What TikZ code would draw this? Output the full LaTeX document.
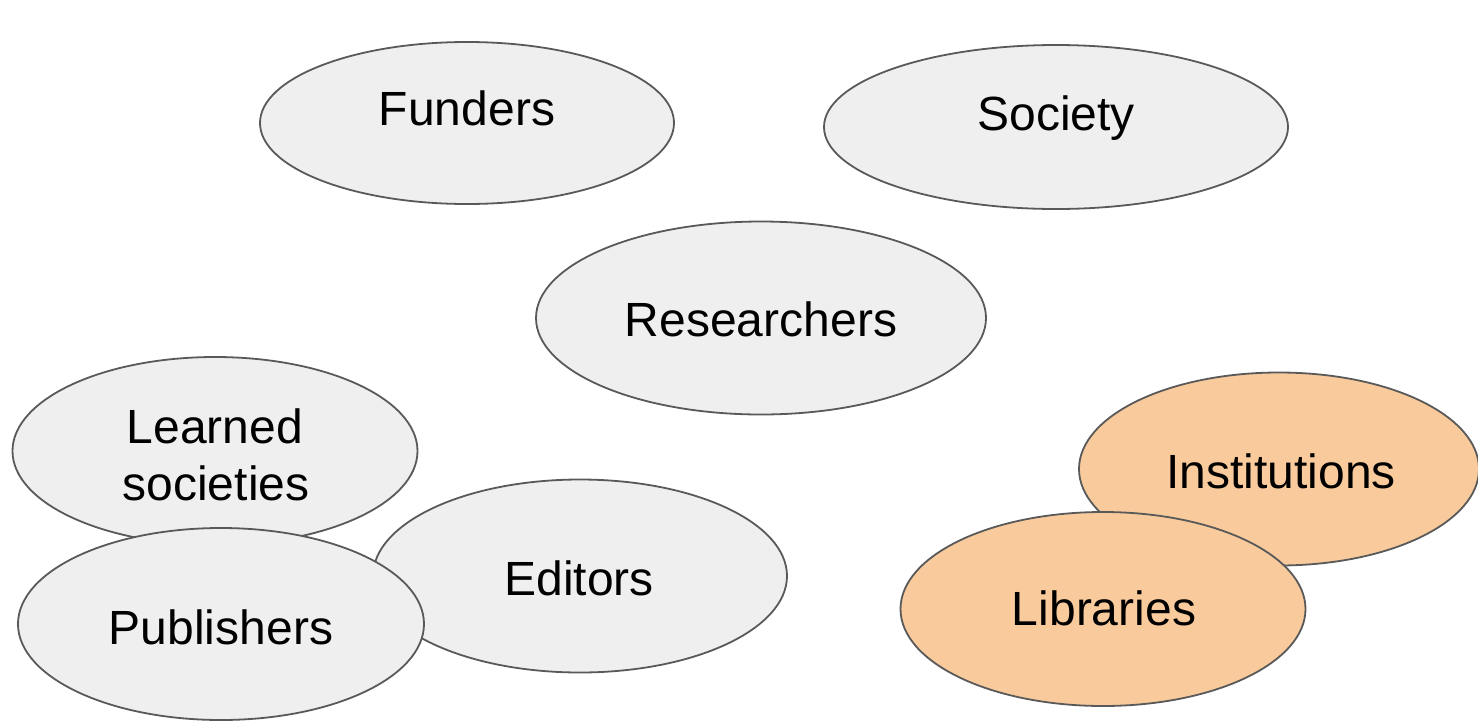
\documentclass[tikz,border=0pt]{standalone}
\usepackage{fontspec}
\setmainfont{Liberation Sans}
\usetikzlibrary{shapes.geometric}
\definecolor{grayfill}{HTML}{EFEFEF}
\definecolor{orangefill}{HTML}{F9CB9C}
\definecolor{edge}{HTML}{595959}
\tikzset{
  blob/.style={ellipse, draw=edge, line width=1.8pt, fill=grayfill, inner sep=0pt},
  oblob/.style={blob, fill=orangefill},
  lbl/.style={anchor=base, inner sep=0pt, font=\fontsize{48}{57}\selectfont}
}
\begin{document}
\begin{tikzpicture}[x=1pt,y=-1pt]
\useasboundingbox (0,0) rectangle (1478,721);
\node[blob, minimum width=414pt, minimum height=162pt] (funders) at (467,123) {};
\node[lbl] (funderst) at (467,125) {Funders};
\node[blob, minimum width=464pt, minimum height=164pt] (society) at (1056,127) {};
\node[lbl] (societyt) at (1056,130) {Society};
\node[blob, minimum width=450pt, minimum height=193pt] (researchers) at (761,318) {};
\node[lbl] (researcherst) at (761,336) {Researchers};
\node[blob, minimum width=405pt, minimum height=188pt] (learned) at (215,451) {};
\node[lbl] (learnedt1) at (215,443) {Learned};
\node[lbl] (learnedt2) at (216,500) {societies};
\node[blob, minimum width=414pt, minimum height=193pt] (editors) at (580,576) {};
\node[lbl] (editorst) at (579,595) {Editors};
\node[blob, minimum width=406pt, minimum height=192pt] (publishers) at (221,624) {};
\node[lbl] (publisherst) at (221,644) {Publishers};
\node[oblob, minimum width=400pt, minimum height=193pt] (institutions) at (1279,469) {};
\node[lbl] (institutionst) at (1281,488) {Institutions};
\node[oblob, minimum width=405pt, minimum height=194pt] (libraries) at (1103,609) {};
\node[lbl] (librariest) at (1104,625) {Libraries};
\end{tikzpicture}
\end{document}
